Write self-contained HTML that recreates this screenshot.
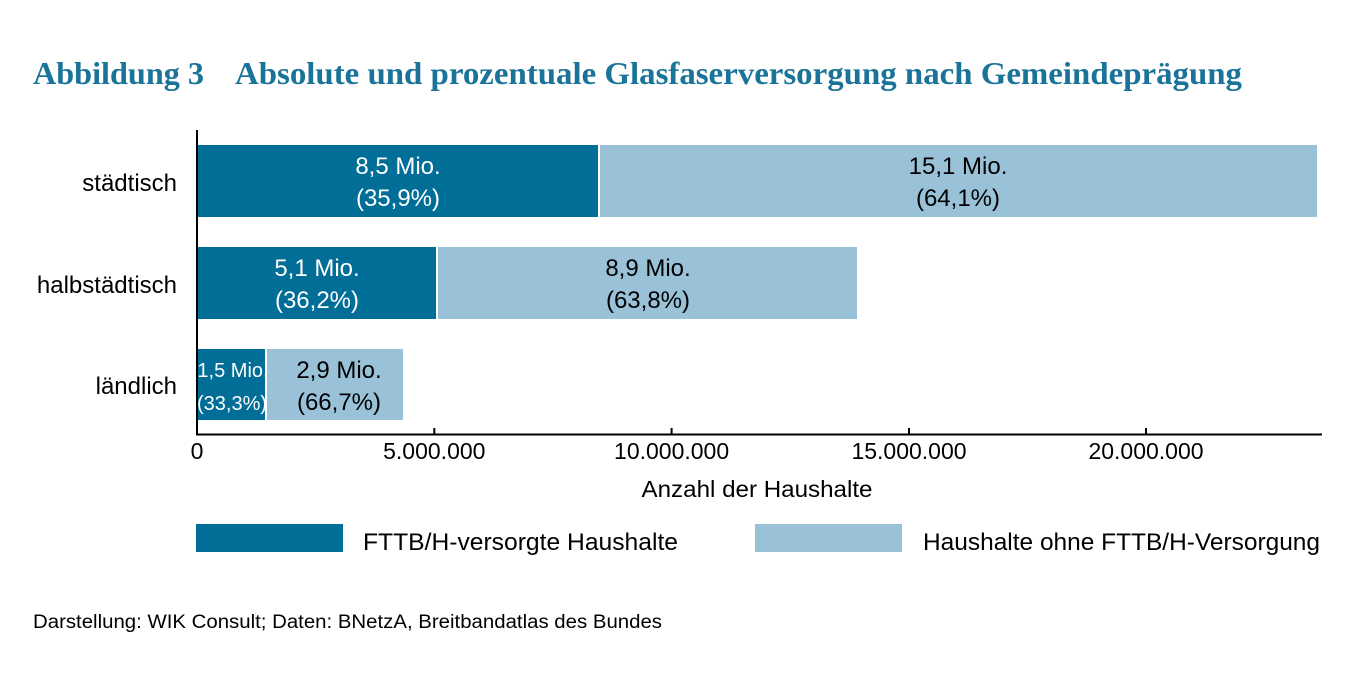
<!DOCTYPE html>
<html>
<head>
<meta charset="utf-8">
<style>
html,body{margin:0;padding:0;background:#fff;}
svg{display:block;}
text{font-family:"Liberation Sans",sans-serif;}
.serif{font-family:"Liberation Serif",serif;font-weight:bold;fill:#1a7399;}
</style>
</head>
<body>
<svg width="1366" height="675" viewBox="0 0 1366 675" xmlns="http://www.w3.org/2000/svg">
<rect width="1366" height="675" fill="#fff"/>
<!-- Title -->
<text class="serif" x="33" y="84" font-size="32" textLength="171" lengthAdjust="spacingAndGlyphs">Abbildung 3</text>
<text class="serif" x="235" y="84" font-size="32" textLength="1007" lengthAdjust="spacingAndGlyphs">Absolute und prozentuale Glasfaserversorgung nach Gemeindeprägung</text>

<!-- Bars -->
<rect x="197" y="145" width="401" height="72" fill="#006e96"/>
<rect x="600" y="145" width="717" height="72" fill="#99c1d8"/>
<rect x="197" y="247" width="239" height="72" fill="#006e96"/>
<rect x="438" y="247" width="419" height="72" fill="#99c1d8"/>
<rect x="197" y="349" width="68" height="71" fill="#006e96"/>
<rect x="267" y="349" width="136" height="71" fill="#99c1d8"/>

<!-- Bar labels -->
<g font-size="24" text-anchor="middle">
<text x="398" y="174" fill="#fff">8,5 Mio.</text>
<text x="398" y="206" fill="#fff">(35,9%)</text>
<text x="958" y="174" fill="#000">15,1 Mio.</text>
<text x="958" y="206" fill="#000">(64,1%)</text>
<text x="317" y="276" fill="#fff">5,1 Mio.</text>
<text x="317" y="308" fill="#fff">(36,2%)</text>
<text x="648" y="276" fill="#000">8,9 Mio.</text>
<text x="648" y="308" fill="#000">(63,8%)</text>
<text x="339" y="378" fill="#000">2,9 Mio.</text>
<text x="339" y="410" fill="#000">(66,7%)</text>
</g>
<g font-size="20" text-anchor="middle" fill="#fff">
<text x="233" y="377">1,5 Mio.</text>
<text x="232" y="410">(33,3%)</text>
</g>

<!-- Category labels -->
<g font-size="24" text-anchor="end" fill="#000">
<text x="177" y="191">städtisch</text>
<text x="177" y="293">halbstädtisch</text>
<text x="177" y="394">ländlich</text>
</g>

<!-- Axes -->
<line x1="197" y1="130" x2="197" y2="435.5" stroke="#000" stroke-width="2"/>
<line x1="196" y1="434.5" x2="1322" y2="434.5" stroke="#000" stroke-width="2"/>
<g stroke="#000" stroke-width="2">
<line x1="434.3" y1="428" x2="434.3" y2="434"/>
<line x1="671.6" y1="428" x2="671.6" y2="434"/>
<line x1="909" y1="428" x2="909" y2="434"/>
<line x1="1146" y1="428" x2="1146" y2="434"/>
</g>
<g font-size="23" text-anchor="middle" fill="#000">
<text x="197" y="459">0</text>
<text x="434.3" y="459">5.000.000</text>
<text x="671.6" y="459">10.000.000</text>
<text x="909" y="459">15.000.000</text>
<text x="1146" y="459">20.000.000</text>
</g>
<text x="757" y="497" font-size="23" text-anchor="middle" fill="#000" textLength="231" lengthAdjust="spacingAndGlyphs">Anzahl der Haushalte</text>

<!-- Legend -->
<rect x="196" y="524" width="147" height="28" fill="#006e96"/>
<text x="363" y="550" font-size="24" fill="#000" textLength="315" lengthAdjust="spacingAndGlyphs">FTTB/H-versorgte Haushalte</text>
<rect x="755" y="524" width="147" height="28" fill="#99c1d8"/>
<text x="923" y="550" font-size="24" fill="#000" textLength="397" lengthAdjust="spacingAndGlyphs">Haushalte ohne FTTB/H-Versorgung</text>

<!-- Footer -->
<text x="33" y="628" font-size="19" fill="#000" textLength="629" lengthAdjust="spacingAndGlyphs">Darstellung: WIK Consult; Daten: BNetzA, Breitbandatlas des Bundes</text>
</svg>
</body>
</html>
